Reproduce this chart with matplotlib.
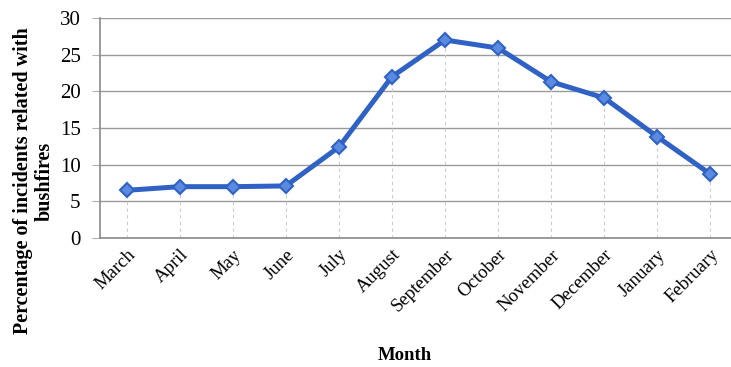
import matplotlib.pyplot as plt
import numpy as np

#data
months = ["March", "April", "May", "June", "July", "August", "September",
          "October", "November", "December", "January", "February"]
pct = [6.5, 7.0, 7.0, 7.1, 12.4, 22.0, 27.0, 25.9, 21.3, 19.1, 13.8, 8.7]

plt.rcParams["font.family"] = ["Liberation Serif", "DejaVu Serif"]

fig = plt.figure(figsize=(7.31, 3.67), dpi=100)
ax = fig.add_axes([100 / 731, 129 / 367, 637 / 731, 220 / 367])

x = np.arange(len(months))

#drop lines from the axis to each point
ax.vlines(x, 0, pct, colors="#cccccc", linestyles=(0, (3, 3)), linewidth=0.8, zorder=1)

ax.plot(x, pct, color="#2f62c4", linewidth=3.6, marker="D", markersize=7.5,
        markerfacecolor="#5b8be0", markeredgecolor="#2f62c4", markeredgewidth=1.5, zorder=3)

ax.set_xlim(-0.5, len(months) - 0.5)
ax.set_ylim(0, 30)
ax.set_yticks(range(0, 31, 5))
ax.yaxis.grid(True, color="#9a9a9a", linewidth=1.0)
ax.set_axisbelow(True)

for s in ["top", "right"]:
    ax.spines[s].set_visible(False)
ax.spines["left"].set_color("#8a8a8a")
ax.spines["bottom"].set_color("#8a8a8a")
ax.spines["left"].set_linewidth(1.2)
ax.spines["bottom"].set_linewidth(1.2)

ax.tick_params(axis="y", length=6, color="#b0b0b0", labelsize=15, pad=8)
ax.tick_params(axis="x", length=0, labelsize=13.5, pad=6)
ax.set_xticks(x)
ax.set_xticklabels(months, rotation=45, ha="right", rotation_mode="anchor")

#axis titles placed by hand
fig.text(34 / 731, 1 - 181 / 367, "Percentage of incidents related with\nbushfires",
         rotation=90, ha="center", va="center", fontsize=14.5, fontweight="bold",
         linespacing=1.1, multialignment="center")
fig.text(405 / 731, 1 - 355 / 367, "Month", ha="center", va="center",
         fontsize=13.5, fontweight="bold")

fig.savefig("out.png", dpi=100)
